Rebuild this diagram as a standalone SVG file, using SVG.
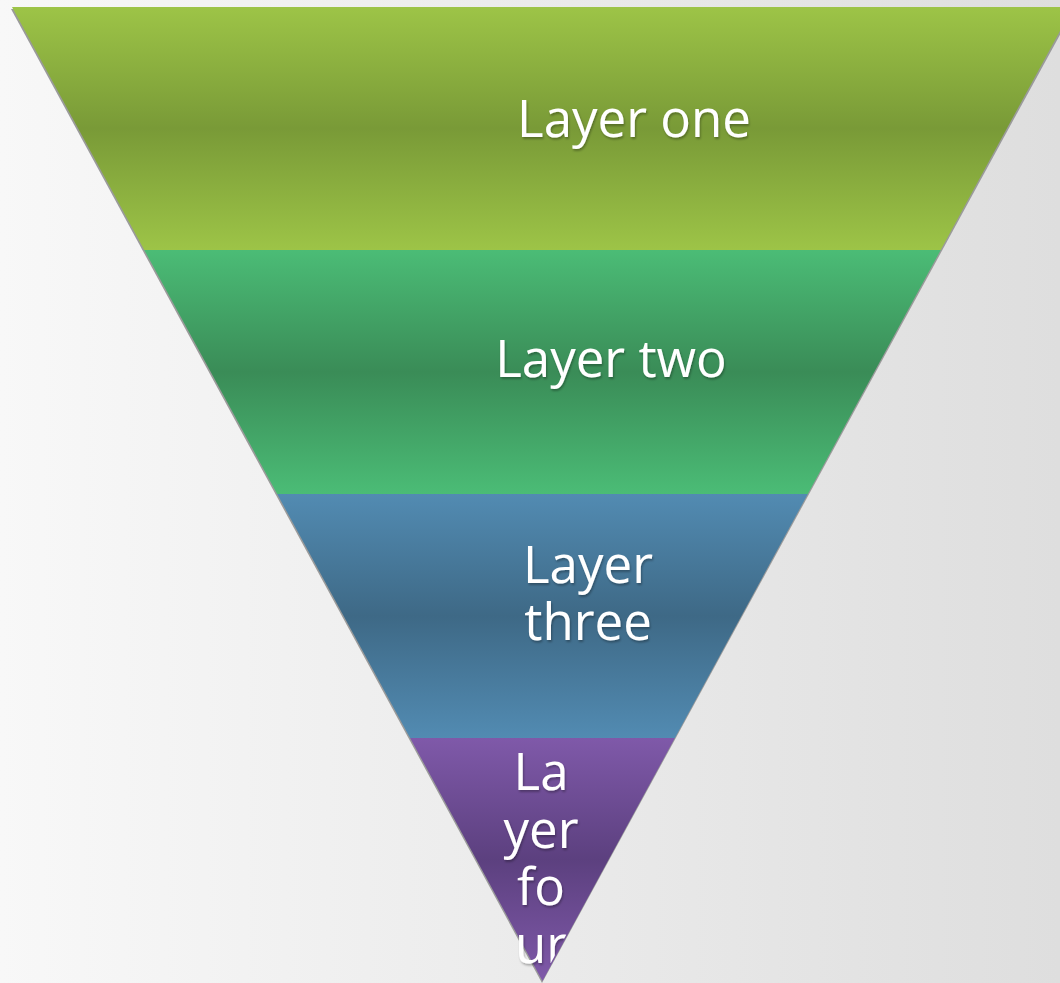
<svg xmlns="http://www.w3.org/2000/svg" width="1060" height="983" viewBox="0 0 1060 983">
  <defs>
    <linearGradient id="bg" x1="0" y1="0" x2="1" y2="0">
      <stop offset="0" stop-color="#f8f8f8"/>
      <stop offset="1" stop-color="#dedede"/>
    </linearGradient>
    <linearGradient id="g1" x1="0" y1="0" x2="0" y2="1">
      <stop offset="0" stop-color="#9dc447"/>
      <stop offset="0.5" stop-color="#799a37"/>
      <stop offset="1" stop-color="#9dc447"/>
    </linearGradient>
    <linearGradient id="g2" x1="0" y1="0" x2="0" y2="1">
      <stop offset="0" stop-color="#4bbc76"/>
      <stop offset="0.5" stop-color="#3a8c57"/>
      <stop offset="1" stop-color="#4bbc76"/>
    </linearGradient>
    <linearGradient id="g3" x1="0" y1="0" x2="0" y2="1">
      <stop offset="0" stop-color="#528bb2"/>
      <stop offset="0.5" stop-color="#3e6986"/>
      <stop offset="1" stop-color="#528bb2"/>
    </linearGradient>
    <linearGradient id="g4" x1="0" y1="0" x2="0" y2="1">
      <stop offset="0" stop-color="#7f59a9"/>
      <stop offset="0.5" stop-color="#5c407f"/>
      <stop offset="1" stop-color="#7f59a9"/>
    </linearGradient>
    <filter id="ts" x="-20%" y="-20%" width="140%" height="140%">
      <feDropShadow dx="1" dy="2" stdDeviation="0.8" flood-color="#000" flood-opacity="0.3"/>
    </filter>
    <clipPath id="tc">
      <polygon points="0,0 1073,7 541,981 0,983"/>
    </clipPath>
  </defs>
  <style>
    .lbl { font-family: "Open Sans", "Noto Sans", "Liberation Sans", sans-serif; font-size: 51px; fill: #ffffff; text-anchor: middle; }
  </style>
  <rect x="0" y="0" width="1060" height="983" fill="url(#bg)"/>
  <polygon points="11,9 1074,9 542,983" fill="#9a9a9a"/>
  <g id="layer-one">
    <polygon points="12,7 1073,7 940.7,250 144.3,250" fill="url(#g1)"/>
    <text class="lbl" x="634" y="137" filter="url(#ts)">Layer one</text>
  </g>
  <g id="layer-two">
    <polygon points="144.3,250 940.7,250 807.8,494 277.2,494" fill="url(#g2)"/>
    <text class="lbl" x="611" y="377" filter="url(#ts)">Layer two</text>
  </g>
  <g id="layer-three">
    <polygon points="277.2,494 807.8,494 674.9,738 410.1,738" fill="url(#g3)"/>
    <text class="lbl" x="588" y="583" filter="url(#ts)">Layer</text>
    <text class="lbl" x="588" y="640" filter="url(#ts)">three</text>
  </g>
  <g id="layer-four">
    <polygon points="410.1,738 674.9,738 542.5,981" fill="url(#g4)"/>
    <g clip-path="url(#tc)" filter="url(#ts)">
      <text class="lbl" x="541" y="790">La</text>
      <text class="lbl" x="541" y="848">yer</text>
      <text class="lbl" x="541" y="905">fo</text>
      <text class="lbl" x="541" y="963">ur</text>
    </g>
  </g>
</svg>
